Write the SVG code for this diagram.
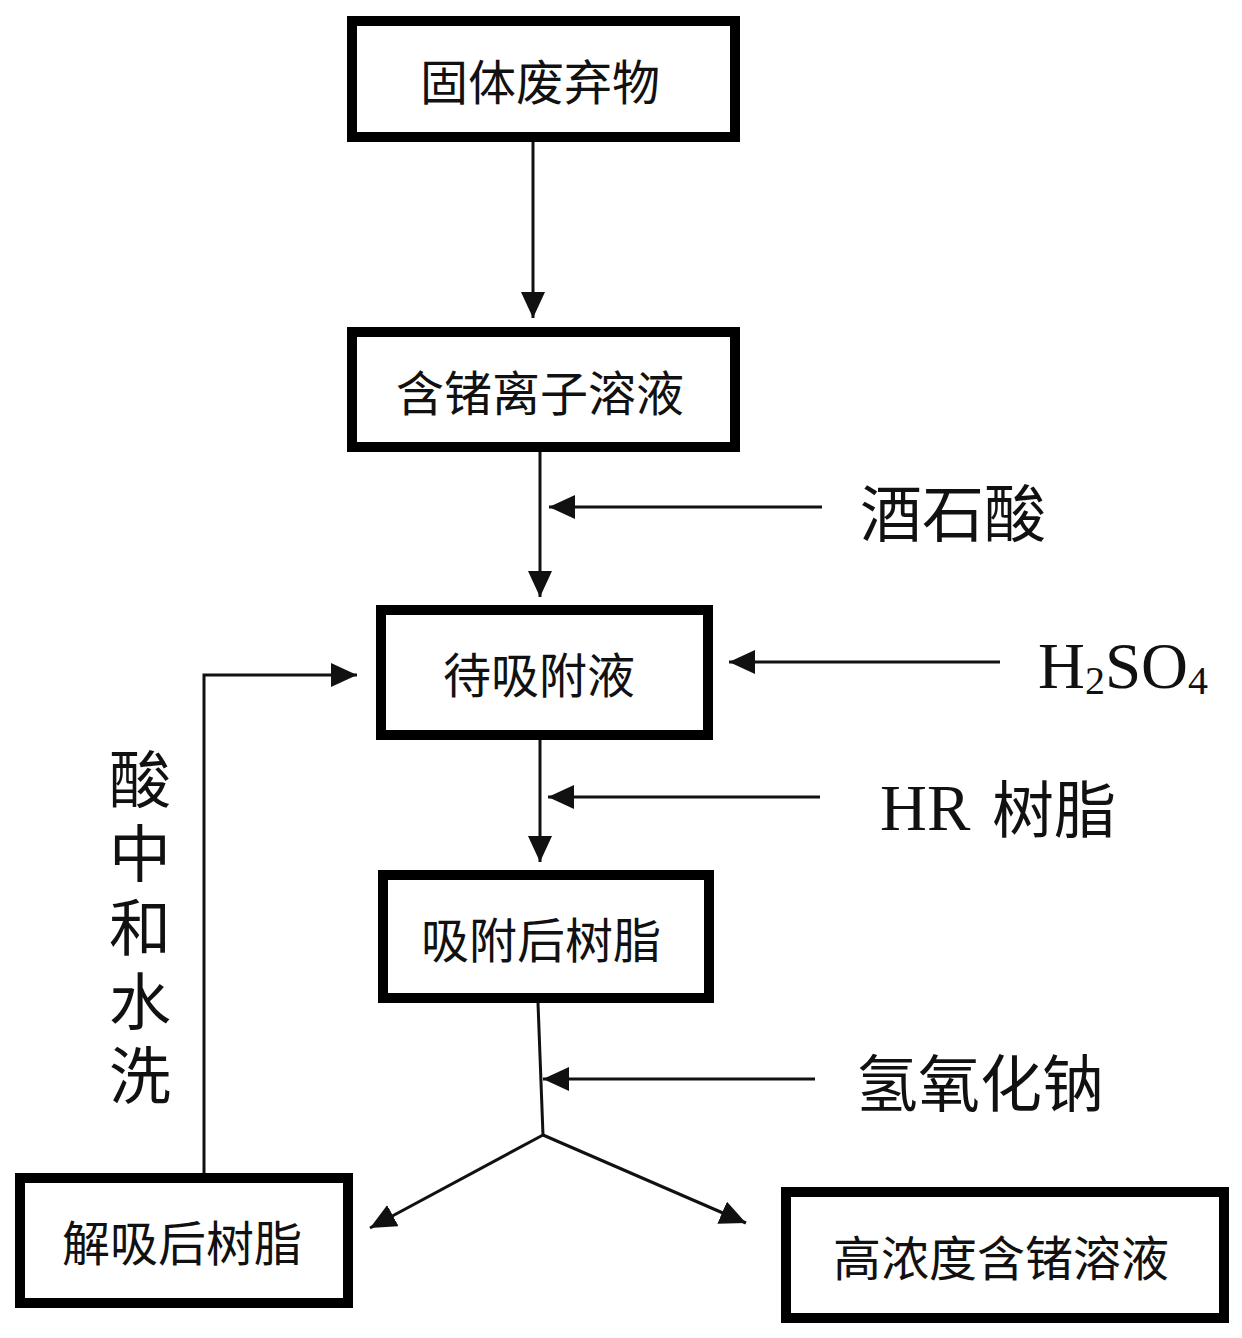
<svg xmlns="http://www.w3.org/2000/svg" width="1242" height="1338" viewBox="0 0 1242 1338">
<style>
.box{fill:#fff;stroke:#000;stroke-width:10}
.lbl{font-family:"Noto Sans CJK SC","Noto Sans",sans-serif;font-size:48px;fill:#111;text-anchor:middle;dominant-baseline:central}
.side{font-family:"Noto Sans CJK SC","Noto Sans",sans-serif;font-size:62px;fill:#111;dominant-baseline:central}
.lat{font-family:"Liberation Serif","Noto Sans CJK SC",serif;font-size:65px;fill:#111}
.ln{fill:none;stroke:#111;stroke-width:3}
</style>
<defs>
<marker id="ah" markerUnits="userSpaceOnUse" markerWidth="28" markerHeight="26" refX="26" refY="12" orient="auto" viewBox="0 0 28 26">
<path d="M0,0 L26,12 L0,24 z" fill="#111"/>
</marker>
</defs>
<rect width="1242" height="1338" fill="#fff"/>
<g id="connectors">
<line class="ln" x1="533" y1="142" x2="533" y2="318" marker-end="url(#ah)" stroke="#444"/>
<line class="ln" x1="540" y1="452" x2="540" y2="597" marker-end="url(#ah)"/>
<line class="ln" x1="822" y1="507" x2="549" y2="507" marker-end="url(#ah)"/>
<line class="ln" x1="1000" y1="662" x2="729" y2="662" marker-end="url(#ah)"/>
<line class="ln" x1="540" y1="740" x2="540" y2="862" marker-end="url(#ah)"/>
<line class="ln" x1="820" y1="797" x2="548" y2="797" marker-end="url(#ah)"/>
<line class="ln" x1="538" y1="1003" x2="543" y2="1135"/>
<line class="ln" x1="815" y1="1079" x2="543" y2="1079" marker-end="url(#ah)"/>
<line class="ln" x1="543" y1="1135" x2="370" y2="1228" marker-end="url(#ah)"/>
<line class="ln" x1="543" y1="1135" x2="746" y2="1223" marker-end="url(#ah)"/>
<polyline class="ln" points="204,1173 204,675 357,675" marker-end="url(#ah)"/>
</g>
<g id="n1"><rect class="box" x="352" y="21" width="383" height="116"/><text class="lbl" x="540" y="79">固体废弃物</text></g>
<g id="n2"><rect class="box" x="352" y="332" width="383" height="115"/><text class="lbl" x="540" y="390">含锗离子溶液</text></g>
<g id="n3"><rect class="box" x="381" y="610" width="327" height="125"/><text class="lbl" x="539" y="672">待吸附液</text></g>
<g id="n4"><rect class="box" x="383" y="875" width="326" height="123"/><text class="lbl" x="541" y="937">吸附后树脂</text></g>
<g id="n5"><rect class="box" x="20" y="1178" width="328" height="125"/><text class="lbl" x="182" y="1240">解吸后树脂</text></g>
<g id="n6"><rect class="box" x="786" y="1192" width="438" height="126"/><text class="lbl" x="1001" y="1255">高浓度含锗溶液</text></g>
<g id="l-tartaric"><text class="side" x="860" y="510">酒石酸</text></g>
<g id="l-h2so4"><text class="lat" x="1038" y="688">H<tspan font-size="40" dy="6">2</tspan><tspan dy="-6">SO</tspan><tspan font-size="40" dy="6">4</tspan></text></g>
<g id="l-hr"><text class="lat" x="880" y="830">HR</text><text class="side" x="992" y="806">树脂</text></g>
<g id="l-naoh"><text class="side" x="856" y="1080">氢氧化钠</text></g>
<g id="l-wash">
<text class="side" x="140" y="748" font-size="56" writing-mode="tb" letter-spacing="12">酸中和水洗</text>
</g>
</svg>
